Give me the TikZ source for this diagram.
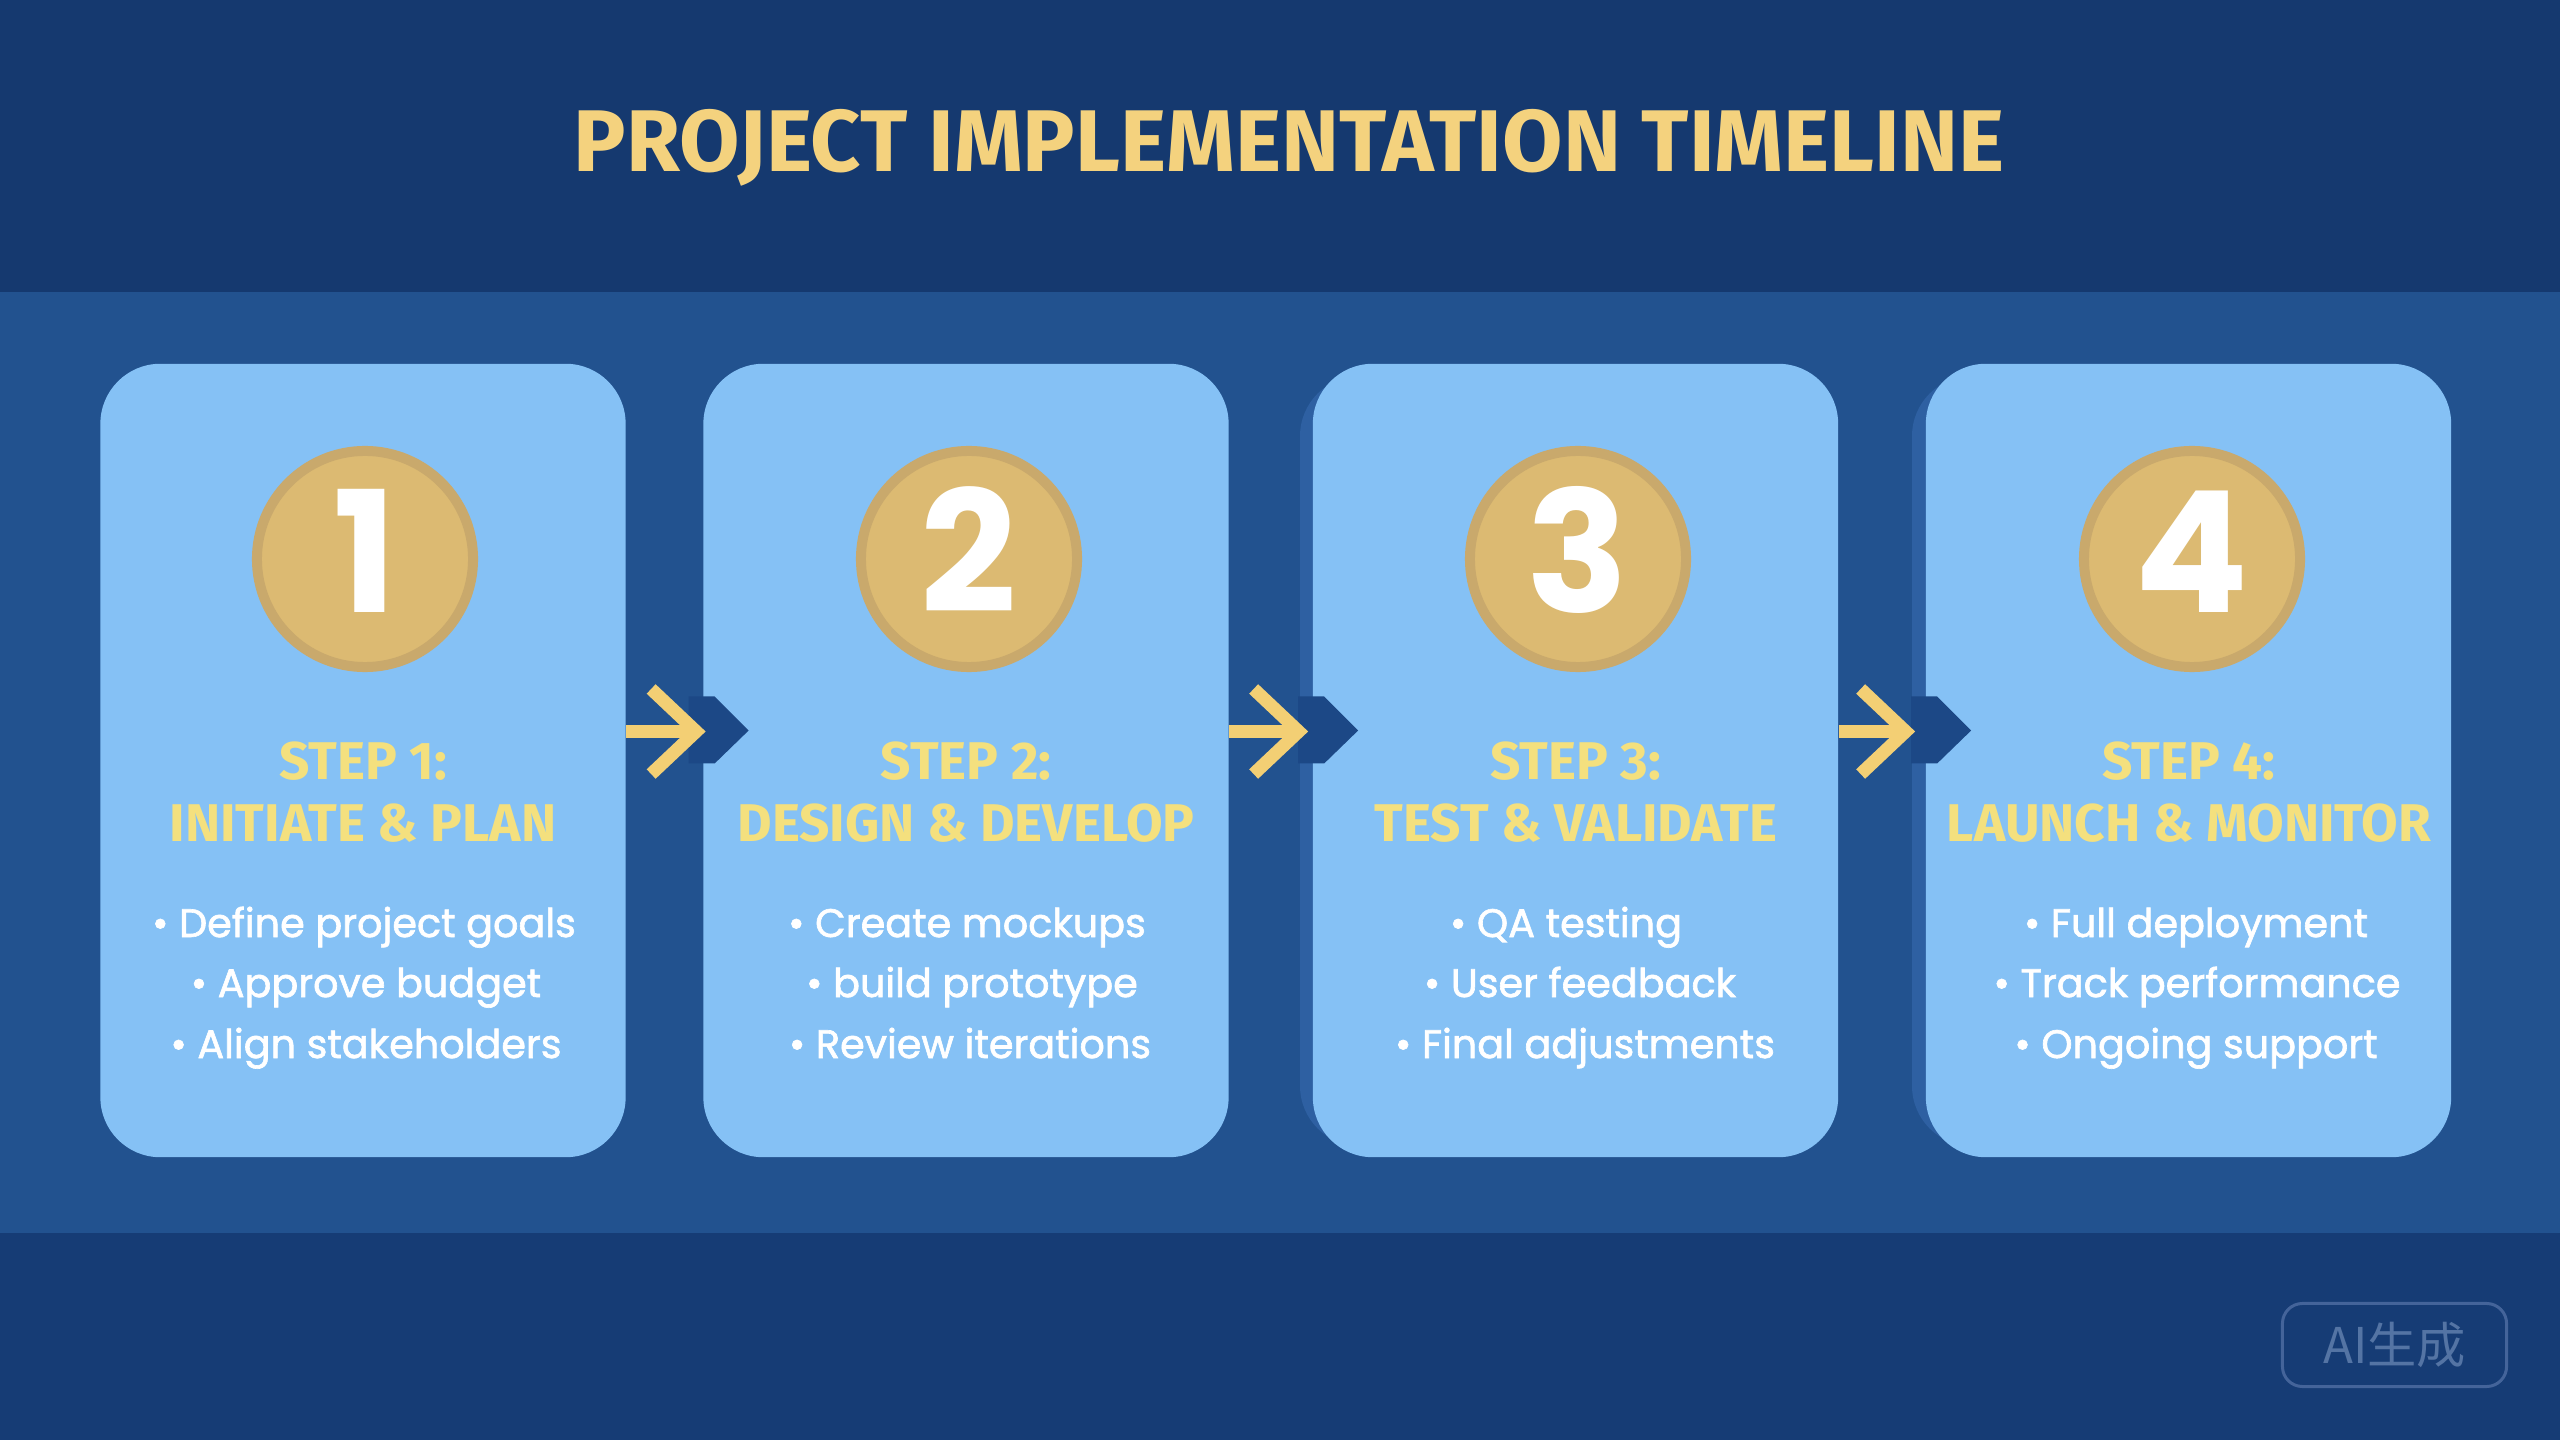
\documentclass[tikz,border=0pt]{standalone}
\usepackage{fontspec}
\setmainfont{Poppins}
\newfontfamily\titlefont{Fira Sans}
\newfontfamily\bulletfont{Poppins}[FakeBold=1.6]
\newfontfamily\cjkfont{Noto Sans CJK SC}
\usetikzlibrary{arrows.meta,calc}
\definecolor{topband}{HTML}{15396F}
\definecolor{midband}{HTML}{22528F}
\definecolor{botband}{HTML}{163C75}
\definecolor{cardblue}{HTML}{85C1F5}
\definecolor{cardshadow}{HTML}{2E60A2}
\definecolor{chevblue}{HTML}{1C4886}
\definecolor{coingold}{HTML}{DCBA72}
\definecolor{coinring}{HTML}{C9A96C}
\definecolor{titlegold}{HTML}{F4D27E}
\definecolor{stepgold}{HTML}{F4E07E}
\definecolor{arrowgold}{HTML}{F3CF74}
\definecolor{wmline}{HTML}{44649A}
\definecolor{wmtext}{HTML}{5474A4}
\begin{document}
\begin{tikzpicture}[x=0.01cm,y=-0.01cm,
  titletxt/.style={anchor=base,inner sep=0pt,text=titlegold,font=\titlefont\bfseries\fontsize{24.9}{29}\selectfont},
  card/.style={rectangle,rounded corners=0.6cm,fill=cardblue,minimum width=5.25cm,minimum height=7.93cm,inner sep=0pt},
  coin/.style={circle,fill=coingold,draw=coinring,line width=0.1cm,minimum size=2.16cm,inner sep=0pt},
  digit/.style={anchor=base,inner sep=0pt,text=white,font=\bfseries\fontsize{48}{56}\selectfont},
  steptxt/.style={anchor=base,inner sep=0pt,text=stepgold,font=\titlefont\bfseries\fontsize{15.1}{18}\selectfont},
  bullettxt/.style={anchor=base,inner sep=0pt,text=white,font=\bulletfont\fontsize{11.3}{13}\selectfont},
  garrow/.style={draw=arrowgold,line width=0.13cm,-{Straight Barb[length=0.45cm,width=0.85cm]}},
  chevron/.style={fill=chevblue},
  wmbox/.style={rectangle,rounded corners=0.2cm,draw=wmline,line width=0.03cm,minimum width=2.24cm,minimum height=0.83cm,text=wmtext,font=\cjkfont\fontsize{14}{16}\selectfont}
]
\useasboundingbox (0,0) rectangle (2560,1440);
% background bands
\fill[topband] (0,0) rectangle (2560,292);
\fill[midband] (0,292) rectangle (2560,1233);
\fill[botband] (0,1233) rectangle (2560,1440);

% title
\node[titletxt] (title) at (1289,172) {PROJECT IMPLEMENTATION TIMELINE};

% card side shadows
\fill[cardshadow,rounded corners=0.6cm] (1300,376) rectangle (1420,1146);
\fill[cardshadow,rounded corners=0.6cm] (1912,376) rectangle (2030,1146);

% cards
\node[card] (c1) at (363,760.5) {};
\node[card] (c2) at (966,760.5) {};
\node[card] (c3) at (1575.5,760.5) {};
\node[card] (c4) at (2188.5,760.5) {};

% chevrons on the left of cards 2-4
\foreach \c in {c2,c3,c4}{
  \fill[chevron] ($(\c.west)+(-14,-64)$) -- ++(26,0) -- ++(34,34) -- ++(-34,33) -- ++(-26,0) -- cycle;
}

% connectors
\draw[garrow] ($(c1.east)+(0,-29)$) -- ($(c2.west)+(3,-29)$);
\draw[garrow] ($(c2.east)+(0,-29)$) -- ($(c3.west)+(-4,-29)$);
\draw[garrow] ($(c3.east)+(0,-29)$) -- ($(c4.west)+(-10,-29)$);

% coins
\node[coin] (n1) at (365,559) {};
\node[coin] (n2) at (969,559) {};
\node[coin] (n3) at (1578,559) {};
\node[coin] (n4) at (2192,559) {};
\node[digit] (d1) at (365,613) {1};
\node[digit] (d2) at (969,613) {2};
\node[digit] (d3) at (1578,613) {3};
\node[digit] (d4) at (2192,613) {4};

% step titles
\node[steptxt] (s1a) at (363,780) {STEP 1:};
\node[steptxt] (s1b) at (363,841) {INITIATE \& PLAN};
\node[steptxt] (s2a) at (966,780) {STEP 2:};
\node[steptxt] (s2b) at (966,841) {DESIGN \& DEVELOP};
\node[steptxt] (s3a) at (1576,780) {STEP 3:};
\node[steptxt] (s3b) at (1576,841) {TEST \& VALIDATE};
\node[steptxt] (s4a) at (2189,780) {STEP 4:};
\node[steptxt] (s4b) at (2189,841) {LAUNCH \& MONITOR};

% bullets
\node[bullettxt] (b11) at (364,937) {• Define project goals};
\node[bullettxt] (b12) at (366,997) {• Approve budget};
\node[bullettxt] (b13) at (366,1058) {• Align stakeholders};
\node[bullettxt] (b21) at (967,937) {• Create mockups};
\node[bullettxt] (b22) at (972,997) {• build prototype};
\node[bullettxt] (b23) at (970,1058) {• Review iterations};
\node[bullettxt] (b31) at (1566,937) {• QA testing};
\node[bullettxt] (b32) at (1580,997) {• User feedback};
\node[bullettxt] (b33) at (1585,1058) {• Final adjustments};
\node[bullettxt] (b41) at (2196,937) {• Full deployment};
\node[bullettxt] (b42) at (2197,997) {• Track performance};
\node[bullettxt] (b43) at (2196,1058) {• Ongoing support};

% watermark
\node[wmbox] (wm) at (2394.5,1345) {AI生成};
\end{tikzpicture}
\end{document}
